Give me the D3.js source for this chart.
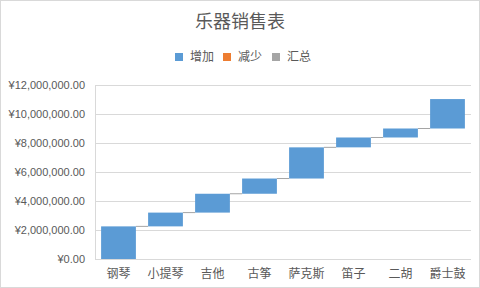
<!DOCTYPE html>
<html>
<head>
<meta charset="utf-8">
<script src="https://cdn.jsdelivr.net/npm/d3@7"></script>
<style>
  body { margin: 0; background: #fff; }
  text { font-family: "Liberation Sans", "Noto Sans CJK SC", sans-serif; }
  .cjk { font-family: "Noto Sans CJK SC", sans-serif; }
</style>
</head>
<body>
<div id="chart"></div>
<script>
// instrument sales, increase per category
const categories = ["钢琴", "小提琴", "吉他", "古筝", "萨克斯", "笛子", "二胡", "爵士鼓"];
const increments = [2250000, 950000, 1300000, 1050000, 2150000, 680000, 620000, 2030000];
const yTicks = [0, 2000000, 4000000, 6000000, 8000000, 10000000, 12000000];
const legendItems = ["增加", "减少", "汇总"];
const legendColors = ["#5b9bd5", "#ed7d31", "#a5a5a5"];

const width = 480, height = 288;
const margin = { top: 85, right: 9, bottom: 29, left: 95 };

// running totals for the waterfall
let total = 0;
const bars = categories.map((c, i) => {
    const start = total;
    total += increments[i];
    return { name: c, start: start, end: total };
});

const svg = d3.select("#chart").append("svg")
    .attr("width", width)
    .attr("height", height);

svg.append("rect")
    .attr("x", 0.5).attr("y", 0.5)
    .attr("width", width - 1).attr("height", height - 1)
    .attr("fill", "#fff")
    .attr("stroke", "#d9d9d9");

const x = d3.scaleBand()
    .domain(categories)
    .range([margin.left, width - margin.right])
    .paddingInner(0.26)
    .paddingOuter(0.13);

const y = d3.scaleLinear()
    .domain([0, 12000000])
    .range([height - margin.bottom, margin.top]);

// gridlines
svg.append("g")
    .selectAll("line")
    .data(yTicks)
    .enter()
    .append("line")
    .attr("x1", margin.left)
    .attr("x2", width - margin.right)
    .attr("y1", d => Math.round(y(d)) + 0.5)
    .attr("y2", d => Math.round(y(d)) + 0.5)
    .attr("stroke", "#d9d9d9");

svg.append("line")
    .attr("x1", margin.left + 0.5).attr("x2", margin.left + 0.5)
    .attr("y1", y(12000000)).attr("y2", y(0))
    .attr("stroke", "#d9d9d9");

// y labels
const fmt = d3.format(",.2f");
svg.append("g")
    .selectAll("text")
    .data(yTicks)
    .enter()
    .append("text")
    .attr("x", margin.left - 10)
    .attr("y", d => y(d) + 4)
    .attr("text-anchor", "end")
    .attr("font-size", "11px")
    .attr("fill", "#595959")
    .text(d => "¥" + fmt(d));

// connectors
svg.append("g")
    .selectAll("line")
    .data(bars.slice(0, -1))
    .enter()
    .append("line")
    .attr("x1", d => x(d.name) + x.bandwidth())
    .attr("x2", (d, i) => x(categories[i + 1]))
    .attr("y1", d => y(d.end))
    .attr("y2", d => y(d.end))
    .attr("stroke", "#a5a5a5")
    .attr("stroke-width", 1);

// bars
svg.append("g")
    .selectAll("rect")
    .data(bars)
    .enter()
    .append("rect")
    .attr("x", d => x(d.name))
    .attr("width", x.bandwidth())
    .attr("y", d => y(d.end))
    .attr("height", d => y(d.start) - y(d.end))
    .attr("fill", legendColors[0]);

// x labels
svg.append("g")
    .selectAll("text")
    .data(categories)
    .enter()
    .append("text")
    .attr("class", "cjk")
    .attr("x", d => x(d) + x.bandwidth() / 2)
    .attr("y", height - 10)
    .attr("text-anchor", "middle")
    .attr("font-size", "12px")
    .attr("fill", "#595959")
    .text(d => d);

// title
svg.append("text")
    .attr("class", "cjk")
    .attr("x", width / 2)
    .attr("y", 28)
    .attr("text-anchor", "middle")
    .attr("font-size", "18px")
    .attr("fill", "#595959")
    .text("乐器销售表");

// legend
const legendX = [175, 223, 272];
const legend = svg.append("g")
    .selectAll("g")
    .data(legendItems)
    .enter()
    .append("g")
    .attr("transform", (d, i) => `translate(${legendX[i]},53)`);

legend.append("rect")
    .attr("width", 8)
    .attr("height", 8)
    .attr("fill", (d, i) => legendColors[i]);

legend.append("text")
    .attr("class", "cjk")
    .attr("x", 15)
    .attr("y", 8)
    .attr("font-size", "12px")
    .attr("fill", "#595959")
    .text(d => d);
</script>
</body>
</html>
